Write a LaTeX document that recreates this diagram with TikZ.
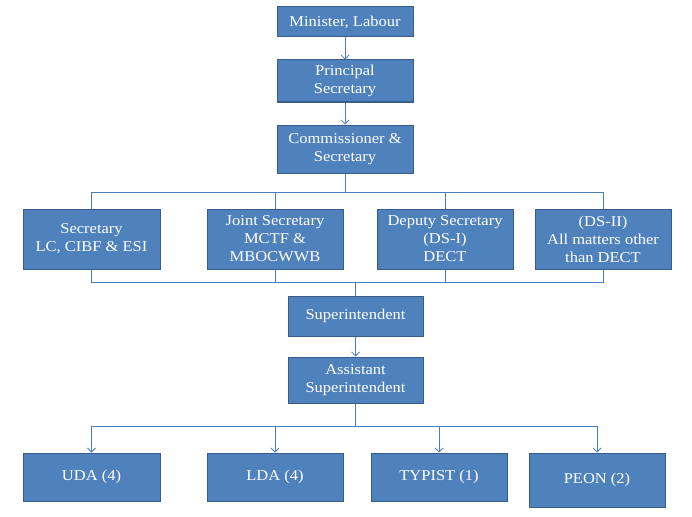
\documentclass[tikz,border=0pt]{standalone}
\usepackage{fontspec}
\setmainfont[FakeStretch=1.10]{Liberation Serif}
\usetikzlibrary{arrows.meta}
\definecolor{boxfill}{HTML}{4F81BD}
\definecolor{boxline}{HTML}{385D8A}
\definecolor{conn}{HTML}{4A7EBB}
\tikzset{
  orgbox/.style={draw=boxline, line width=1pt, fill=boxfill, text=white, align=center,
    font=\fontsize{15}{18}\selectfont, inner sep=0pt},
  conline/.style={draw=conn, line width=0.8pt},
  arr/.style={conline, -{Straight Barb[length=4pt,width=8pt]}}
}
\begin{document}
\begin{tikzpicture}[x=1pt,y=-1pt]
\useasboundingbox (0,0) rectangle (692,516);
% top chain
\node[orgbox, minimum width=136pt, minimum height=30pt] (min) at (345,22) {Minister, Labour};
\node[orgbox, minimum width=136pt, minimum height=42pt] (ps) at (345,81) {Principal\\Secretary};
\node[orgbox, minimum width=136pt, minimum height=48pt] (com) at (345,149) {Commissioner \&\\Secretary};
% second row
\node[orgbox, minimum width=137pt, minimum height=60pt] (sec) at (91.5,239) {Secretary\\LC, CIBF \& ESI};
\node[orgbox, minimum width=136pt, minimum height=60pt] (js) at (275,239) {Joint Secretary\\MCTF \&\\MBOCWWB};
\node[orgbox, minimum width=136pt, minimum height=60pt] (ds1) at (445,239) {Deputy Secretary\\(DS-I)\\DECT};
\node[orgbox, minimum width=136pt, minimum height=60pt] (ds2) at (603,239) {(DS-II)\\All matters other\\than DECT};
% middle
\node[orgbox, minimum width=135pt, minimum height=40pt] (sup) at (355.5,316) {Superintendent};
\node[orgbox, minimum width=135pt, minimum height=46pt] (asst) at (355.5,380) {Assistant\\Superintendent};
% bottom row
\node[orgbox, minimum width=137pt, minimum height=48pt] (uda) at (91.5,477) {UDA (4)};
\node[orgbox, minimum width=136pt, minimum height=48pt] (lda) at (275,477) {LDA (4)};
\node[orgbox, minimum width=136pt, minimum height=48pt] (typ) at (439,477) {TYPIST (1)};
\node[orgbox, minimum width=136pt, minimum height=54pt] (peon) at (597,480) {PEON (2)};
% bar coordinates
\coordinate (tbar) at (0,192);
\coordinate (bbar) at (0,282);
\coordinate (lbar) at (0,426);
% connectors
\draw[arr] (min) -- (ps);
\draw[arr] (ps) -- (com);
\draw[conline] (com.south) -- (com.south |- tbar);
\draw[conline] (sec.north) -- (sec.north |- tbar) -- (ds2.north |- tbar) -- (ds2.north);
\draw[conline] (js.north) -- (js.north |- tbar);
\draw[conline] (ds1.north) -- (ds1.north |- tbar);
\draw[conline] (sec.south) -- (sec.south |- bbar) -- (ds2.south |- bbar) -- (ds2.south);
\draw[conline] (js.south) -- (js.south |- bbar);
\draw[conline] (ds1.south) -- (ds1.south |- bbar);
\draw[conline] (sup.north |- bbar) -- (sup.north);
\draw[arr] (sup) -- (asst);
\draw[conline] (asst.south) -- (asst.south |- lbar);
\draw[conline] (uda.north |- lbar) -- (peon.north |- lbar);
\draw[arr] (uda.north |- lbar) -- (uda.north);
\draw[arr] (lda.north |- lbar) -- (lda.north);
\draw[arr] (typ.north |- lbar) -- (typ.north);
\draw[arr] (peon.north |- lbar) -- (peon.north);
\end{tikzpicture}
\end{document}
